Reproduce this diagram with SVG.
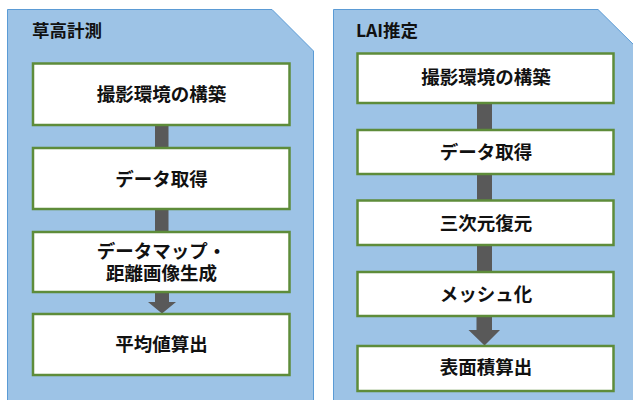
<svg xmlns="http://www.w3.org/2000/svg" width="633" height="400" viewBox="0 0 633 400">
<style>
.panel{fill:#9DC3E6;stroke:#5B9BD5;stroke-width:1}
.box{fill:#FFFFFF;stroke:#5E8C3A;stroke-width:2.5}
.t{font-family:"Noto Sans CJK JP","Noto Sans",sans-serif;font-weight:bold;font-size:18.5px;fill:#111;text-anchor:middle;dominant-baseline:central}
.title{font-family:"Noto Sans CJK JP","Noto Sans",sans-serif;font-weight:bold;font-size:17.5px;fill:#111;dominant-baseline:central}
.c{fill:#595959}
</style>
<rect width="633" height="400" fill="#FFFFFF"/>
<g id="panel-left">
<path class="panel" d="M7.5,9.5 H272 L313.5,51 V405 H7.5 Z"/>
<text class="title" x="32" y="29">草高計測</text>
</g>
<g id="panel-right">
<path class="panel" d="M333.5,9.5 H598 L640,51 V405 H333.5 Z"/>
<text class="title" x="356" y="29">LAI推定</text>
</g>
<g id="connectors">
<rect class="c" x="155" y="125" width="13.5" height="23"/>
<rect class="c" x="155" y="209" width="13.5" height="23"/>
<path class="c" d="M155,292 H169 V302 H176 L162,313.5 L148,302 H155 Z"/>
<rect class="c" x="477" y="103" width="15" height="27"/>
<rect class="c" x="477" y="174" width="15" height="26"/>
<rect class="c" x="477" y="245" width="15" height="27"/>
<path class="c" d="M476.5,316 H492 V330 H500 L484.5,345.5 L468.5,330 H476.5 Z"/>
</g>
<g id="l1"><rect class="box" x="33" y="63.5" width="256.5" height="61.5"/><text class="t" x="161.5" y="93">撮影環境の構築</text></g>
<g id="l2"><rect class="box" x="33" y="148" width="256.5" height="61"/><text class="t" x="161.5" y="178">データ取得</text></g>
<g id="l3"><rect class="box" x="33" y="232" width="256.5" height="60"/><text class="t" x="161.5" y="249.5">データマップ・<tspan x="161.5" dy="22">距離画像生成</tspan></text></g>
<g id="l4"><rect class="box" x="33" y="314" width="256.5" height="61"/><text class="t" x="161.5" y="343">平均値算出</text></g>
<g id="r1"><rect class="box" x="357.5" y="53.5" width="256" height="49.5"/><text class="t" x="486" y="76">撮影環境の構築</text></g>
<g id="r2"><rect class="box" x="357.5" y="130" width="256" height="44"/><text class="t" x="486" y="151">データ取得</text></g>
<g id="r3"><rect class="box" x="357.5" y="200.5" width="256" height="44.5"/><text class="t" x="486" y="222">三次元復元</text></g>
<g id="r4"><rect class="box" x="357.5" y="272" width="256" height="44"/><text class="t" x="486" y="293">メッシュ化</text></g>
<g id="r5"><rect class="box" x="357.5" y="346" width="256" height="45"/><text class="t" x="486" y="366">表面積算出</text></g>
</svg>
